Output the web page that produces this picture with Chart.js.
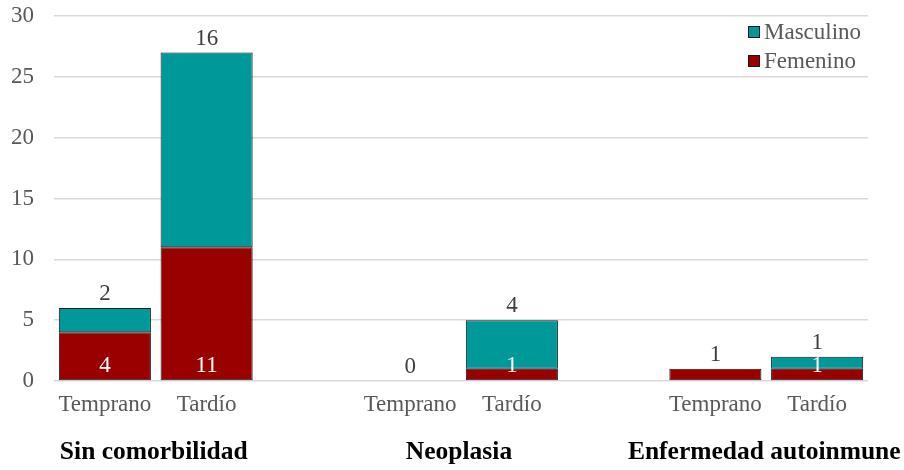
<!DOCTYPE html>
<html>
<head>
<meta charset="utf-8">
<script src="https://cdn.jsdelivr.net/npm/chart.js@4.4.0/dist/chart.umd.min.js"></script>
<style>
  html, body { margin: 0; padding: 0; background: #fff; }
  #wrap { width: 904px; height: 470px; }
</style>
</head>
<body>
<div id="wrap"><canvas id="myChart" width="904" height="470"></canvas></div>
<script>
// ----------------- Data -------------------------//
// empty slots ("") keep the gap between the three groups
const categories = ["Temprano", "Tardío", "", "Temprano", "Tardío", "", "Temprano", "Tardío"];
const groups = ["Sin comorbilidad", "Neoplasia", "Enfermedad autoinmune"];
const groupSlots = [[0, 1], [3, 4], [6, 7]];
const femenino = [4, 11, null, 0, 1, null, 1, 1];
const masculino = [2, 16, null, 0, 4, null, 0, 1];
// labels as printed on the picture
const topLabels = ["2", "16", "", "0", "4", "", "1", "1"];
const insideLabels = ["4", "11", "", "", "1", "", "", "1"];
const yTicks = [0, 5, 10, 15, 20, 25, 30];

const serif = "'Liberation Serif', 'Times New Roman', serif";

// draws value labels, group names and the legend box
const extrasPlugin = {
	id: "extras",
	afterDatasetsDraw(chart) {
		const ctx = chart.ctx;
		const x = chart.scales.x;
		const y = chart.scales.y;
		ctx.save();
		ctx.textAlign = "center";
		ctx.textBaseline = "middle";
		ctx.font = "23px " + serif;

		categories.forEach((c, i) => {
			if (!c) return;
			const cx = x.getPixelForValue(i);
			const total = (femenino[i] || 0) + (masculino[i] || 0);
			if (topLabels[i]) {
				ctx.fillStyle = "#404040";
				ctx.fillText(topLabels[i], cx, y.getPixelForValue(total) - 14);
			}
			if (insideLabels[i]) {
				ctx.fillStyle = "#ffffff";
				ctx.fillText(insideLabels[i], cx, y.getPixelForValue(0) - 15);
			}
		});

		// group titles under the tick labels
		ctx.fillStyle = "#000000";
		ctx.font = "bold 25.5px " + serif;
		groups.forEach((g, k) => {
			const a = x.getPixelForValue(groupSlots[k][0]);
			const b = x.getPixelForValue(groupSlots[k][1]);
			ctx.fillText(g, (a + b) / 2 - 2, 452);
		});

		// legend, top right inside the plot
		const items = [["Masculino", "#009999"], ["Femenino", "#990000"]];
		ctx.textAlign = "left";
		ctx.font = "23px " + serif;
		items.forEach((it, k) => {
			const ly = 32 + k * 29;
			ctx.fillStyle = it[1];
			ctx.fillRect(748, ly - 6, 12, 12);
			ctx.strokeStyle = "#1a1a1a";
			ctx.lineWidth = 1;
			ctx.strokeRect(748.5, ly - 5.5, 11, 11);
			ctx.fillStyle = "#595959";
			ctx.fillText(it[0], 764, ly + 1);
		});
		ctx.restore();
	},
};

const ctx = document.getElementById("myChart");
const myChart = new Chart(ctx, {
	type: "bar",
	data: {
		labels: categories,
		datasets: [
			{
				label: "Femenino",
				data: femenino,
				backgroundColor: "#990000",
				borderColor: "#1a1a1a",
				borderWidth: 1,
				borderSkipped: false,
				barPercentage: 0.905,
				categoryPercentage: 1,
			},
			{
				label: "Masculino",
				data: masculino,
				backgroundColor: "#009999",
				borderColor: "#1a1a1a",
				borderWidth: 1,
				borderSkipped: false,
				barPercentage: 0.905,
				categoryPercentage: 1,
			},
		],
	},
	options: {
		responsive: false,
		animation: false,
		layout: { padding: { top: 16, right: 36, left: 0, bottom: 0 } },
		scales: {
			x: {
				stacked: true,
				grid: { display: false },
				border: { display: false },
				ticks: {
					color: "#595959",
					font: { family: serif, size: 23 },
					padding: 2,
					maxRotation: 0,
					autoSkip: false,
				},
				afterFit: (scale) => { scale.height = 89; },
			},
			y: {
				stacked: true,
				min: 0,
				max: 30,
				afterBuildTicks: (scale) => { scale.ticks = yTicks.map((v) => ({ value: v })); },
				grid: { color: "#d9d9d9", lineWidth: 1.5, drawTicks: false },
				border: { display: false },
				ticks: {
					color: "#595959",
					font: { family: serif, size: 23 },
					padding: 20,
				},
				afterFit: (scale) => {
					scale.width = 54;
					scale.paddingTop = 0; // let layout padding decide where 30 sits
					scale.paddingBottom = 0;
				},
			},
		},
		plugins: {
			legend: { display: false },
			tooltip: { enabled: false },
		},
	},
	plugins: [extrasPlugin],
});
</script>
</body>
</html>
